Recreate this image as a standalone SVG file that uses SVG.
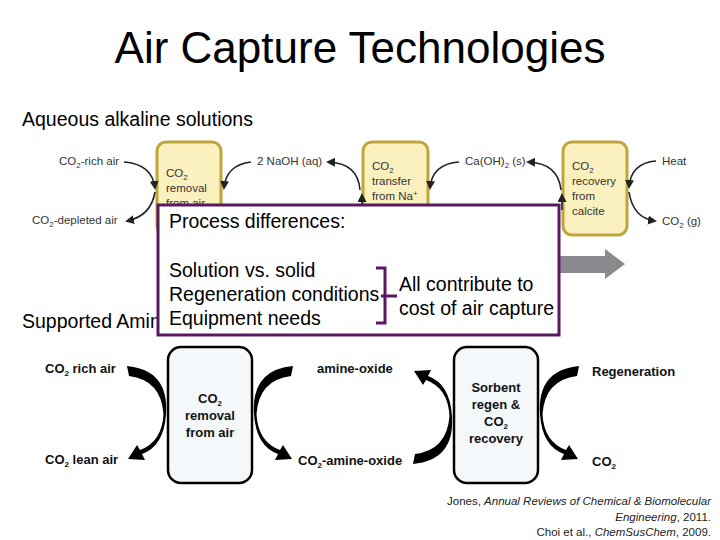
<svg xmlns="http://www.w3.org/2000/svg" width="720" height="540" viewBox="0 0 720 540">
<style>
.t{font-family:"Liberation Sans",Arial,sans-serif;fill:#000}
.title{font-size:44px}
.h{font-size:19.5px}
.s{font-size:11.5px;fill:#333}
.b{font-size:13px;font-weight:bold;fill:#111}
.ref{font-size:11.5px;fill:#222}
.ybox{fill:#fbf1bf;stroke:#bfa63a;stroke-width:3}
.lbox{fill:#f5f8fa;stroke:#000;stroke-width:2.5}
.thin{fill:none;stroke:#222;stroke-width:1.6}
.purple{fill:none;stroke:#5a1863;stroke-width:3}
</style>
<defs>
<marker id="ah" markerUnits="userSpaceOnUse" markerWidth="9" markerHeight="9" refX="7" refY="4.5" orient="auto">
<path d="M0,0 L9,4.5 L0,9 Z" fill="#222"/>
</marker>
<path id="cres" d="M-41,-48 Q1,-44 -2,0 Q-4,32 -26,40 L-23,46 L-40,45 L-31,31 L-28,36 Q-6,28 -4.5,0 Q-7,-34 -39,-38 Z" fill="#000"/>
</defs>

<text class="t title" x="360" y="63" text-anchor="middle">Air Capture Technologies</text>
<text class="t h" x="22" y="126">Aqueous alkaline solutions</text>

<g id="aqueous">
<g id="box-removal"><rect class="ybox" x="157" y="142" width="64" height="93" rx="9"/>
<text class="t s"><tspan x="166" y="177">CO<tspan font-size="8" dy="3">2</tspan></tspan><tspan x="166" y="192">removal</tspan><tspan x="166" y="207">from air</tspan></text></g>
<g id="box-transfer"><rect class="ybox" x="363" y="142" width="65" height="93" rx="9"/>
<text class="t s"><tspan x="372" y="170">CO<tspan font-size="8" dy="3">2</tspan></tspan><tspan x="372" y="185">transfer</tspan><tspan x="372" y="200">from Na<tspan font-size="8" dy="-4">+</tspan></tspan></text></g>
<g id="box-recovery"><rect class="ybox" x="563" y="142" width="64" height="93" rx="9"/>
<text class="t s"><tspan x="572" y="170">CO<tspan font-size="8" dy="3">2</tspan></tspan><tspan x="572" y="185">recovery</tspan><tspan x="572" y="200">from</tspan><tspan x="572" y="215">calcite</tspan></text></g>

<text class="t s" x="59" y="165">CO<tspan font-size="8" dy="3">2</tspan><tspan dy="-3">-rich air</tspan></text>
<text class="t s" x="32" y="224">CO<tspan font-size="8" dy="3">2</tspan><tspan dy="-3">-depleted air</tspan></text>
<text class="t s" x="257" y="165">2 NaOH (aq)</text>
<text class="t s" x="465" y="165">Ca(OH)<tspan font-size="8" dy="3">2</tspan><tspan dy="-3"> (s)</tspan></text>
<text class="t s" x="662" y="165">Heat</text>
<text class="t s" x="662" y="225">CO<tspan font-size="8" dy="3">2</tspan><tspan dy="-3"> (g)</tspan></text>

<g id="thin-connectors">
<path class="thin" d="M124,162 Q152,164 155,188" marker-end="url(#ah)"/>
<path class="thin" d="M155,192 Q151,216 127,221" marker-end="url(#ah)"/>
<path class="thin" d="M251,162 Q226,165 224,188" marker-end="url(#ah)"/>
<path class="thin" d="M360,190 Q358,163 328,162" marker-end="url(#ah)"/>
<path class="thin" d="M362,210 L362,195" marker-end="url(#ah)"/>
<path class="thin" d="M459,162 Q432,164 430,188" marker-end="url(#ah)"/>
<path class="thin" d="M561,190 Q558,163 528,162" marker-end="url(#ah)"/>
<path class="thin" d="M562,210 L562,195" marker-end="url(#ah)"/>
<path class="thin" d="M656,161 Q631,163 629,187" marker-end="url(#ah)"/>
<path class="thin" d="M629,192 Q633,218 655,221" marker-end="url(#ah)"/>
</g>
</g>

<polygon points="545,256 605,256 605,249 625,264 605,279 605,273 545,273" fill="#8a8a8e"/>

<text class="t h" x="22" y="328">Supported Amines</text>

<g id="process-box">
<rect x="158" y="205" width="401" height="130" fill="#fff" stroke="#5a1863" stroke-width="3"/>
<text class="t h" x="169" y="228">Process differences:</text>
<text class="t h" x="169" y="277">Solution vs. solid</text>
<text class="t h" x="169" y="301">Regeneration conditions</text>
<text class="t h" x="169" y="325">Equipment needs</text>
<path class="purple" d="M376,268 L385,268 L385,323 L376,323 M381,296 L397,296"/>
<text class="t h" x="399" y="291">All contribute to</text>
<text class="t h" x="399" y="315">cost of air capture</text>
</g>

<g id="amines">
<g id="box-amine-removal"><rect class="lbox" x="168" y="347" width="84" height="136" rx="13"/>
<text class="t b" text-anchor="middle"><tspan x="210" y="403">CO<tspan font-size="8" dy="3">2</tspan></tspan><tspan x="210" y="420">removal</tspan><tspan x="210" y="437">from air</tspan></text></g>
<g id="box-regen"><rect class="lbox" x="454" y="347" width="84" height="136" rx="13"/>
<text class="t b" text-anchor="middle"><tspan x="496" y="392">Sorbent</tspan><tspan x="496" y="409">regen &amp;</tspan><tspan x="496" y="426">CO<tspan font-size="8" dy="3">2</tspan></tspan><tspan x="496" y="443">recovery</tspan></text></g>

<text class="t b" x="45" y="373">CO<tspan font-size="8" dy="3">2</tspan><tspan dy="-3"> rich air</tspan></text>
<text class="t b" x="45" y="464">CO<tspan font-size="8" dy="3">2</tspan><tspan dy="-3"> lean air</tspan></text>
<text class="t b" x="317" y="373">amine-oxide</text>
<text class="t b" x="298" y="465">CO<tspan font-size="8" dy="3">2</tspan><tspan dy="-3">-amine-oxide</tspan></text>
<text class="t b" x="592" y="376">Regeneration</text>
<text class="t b" x="592" y="466">CO<tspan font-size="8" dy="3">2</tspan></text>

<g id="thick-connectors">
<use href="#cres" transform="translate(168,414)"/>
<use href="#cres" transform="translate(252,414) scale(-1,1)"/>
<use href="#cres" transform="translate(454,416) scale(1,-1)"/>
<use href="#cres" transform="translate(538,414) scale(-1,1)"/>
</g>
</g>

<text class="t ref" text-anchor="end"><tspan x="711" y="505">Jones, <tspan font-style="italic">Annual Reviews of Chemical &amp; Biomolecular</tspan></tspan><tspan x="711" y="521"><tspan font-style="italic">Engineering</tspan>, 2011.</tspan><tspan x="711" y="536">Choi et al., <tspan font-style="italic">ChemSusChem</tspan>, 2009.</tspan></text>
</svg>
